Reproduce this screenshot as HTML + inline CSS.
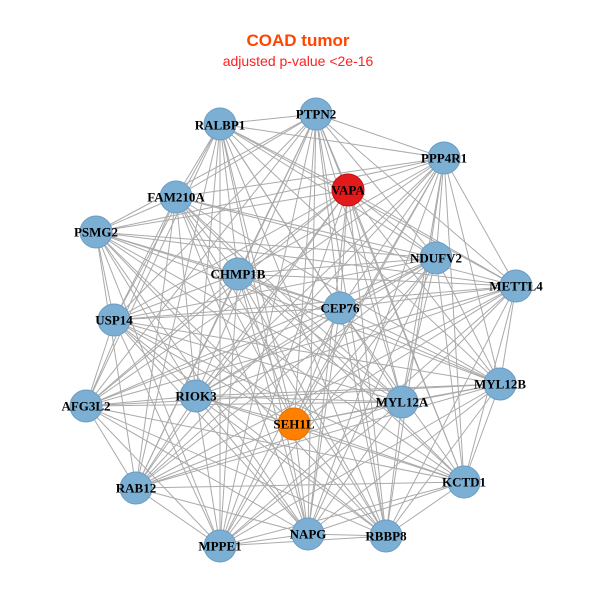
<!DOCTYPE html>
<html><head><meta charset="utf-8"><style>
html,body{margin:0;padding:0;background:#fff;width:600px;height:600px;overflow:hidden}
svg{display:block}
.t{font-family:"Liberation Serif",serif;font-weight:bold;font-size:13px;fill:#000;text-anchor:middle;dominant-baseline:central}
</style></head><body>
<svg id="s" width="600" height="600" viewBox="0 0 600 600" xmlns="http://www.w3.org/2000/svg">
<text x="298" y="46" font-family="Liberation Sans,sans-serif" font-weight="bold" font-size="17" fill="#ff4500" text-anchor="middle">COAD tumor</text>
<text x="298" y="66" font-family="Liberation Sans,sans-serif" font-size="14" fill="#ff2020" text-anchor="middle">adjusted p-value &lt;2e-16</text>
<g id="e" stroke="#aaaaaa" stroke-width="1"></g>
<g id="n"></g>
<g>
<text class="t" x="316" y="114">PTPN2</text>
<text class="t" x="220" y="125">RALBP1</text>
<text class="t" x="444" y="158">PPP4R1</text>
<text class="t" x="348" y="190">VAPA</text>
<text class="t" x="176" y="197">FAM210A</text>
<text class="t" x="96" y="232">PSMG2</text>
<text class="t" x="436" y="258">NDUFV2</text>
<text class="t" x="238" y="274">CHMP1B</text>
<text class="t" x="516" y="286">METTL4</text>
<text class="t" x="340" y="308">CEP76</text>
<text class="t" x="114" y="320">USP14</text>
<text class="t" x="500" y="384">MYL12B</text>
<text class="t" x="402" y="402">MYL12A</text>
<text class="t" x="196" y="396">RIOK3</text>
<text class="t" x="86" y="406">AFG3L2</text>
<text class="t" x="294" y="424">SEH1L</text>
<text class="t" x="464" y="482">KCTD1</text>
<text class="t" x="136" y="488">RAB12</text>
<text class="t" x="308" y="534">NAPG</text>
<text class="t" x="386" y="536">RBBP8</text>
<text class="t" x="220" y="546">MPPE1</text>
</g>
</svg>
<script>
var N=[[316,114],[220,124],[444,158],[348,190],[176,197],[96,232],[436,258],[238,274],[516,286],[340,308],[114,320],[500,384],[402,402],[196,396],[86,406],[294,424],[464,482],[136,488],[308,534],[386,536],[220,546]];
var e=document.getElementById('e'),n=document.getElementById('n'),ns='http://www.w3.org/2000/svg';
for(var i=0;i<N.length;i++)for(var j=i+1;j<N.length;j++){
 if(((i*7+j*3)%11)==0)continue;
 var l=document.createElementNS(ns,'line');
 l.setAttribute('x1',N[i][0]);l.setAttribute('y1',N[i][1]);l.setAttribute('x2',N[j][0]);l.setAttribute('y2',N[j][1]);e.appendChild(l);}
for(var i=0;i<N.length;i++){
 var c=document.createElementNS(ns,'circle');
 c.setAttribute('cx',N[i][0]);c.setAttribute('cy',N[i][1]);c.setAttribute('r',16);
 var f=i==3?'#e31a1c':(i==15?'#ff7f00':'#7bafd4');
 c.setAttribute('fill',f);c.setAttribute('stroke',i==3?'#c01010':(i==15?'#e07000':'#6a9cc4'));
 n.appendChild(c);}
</script>
</body></html>
